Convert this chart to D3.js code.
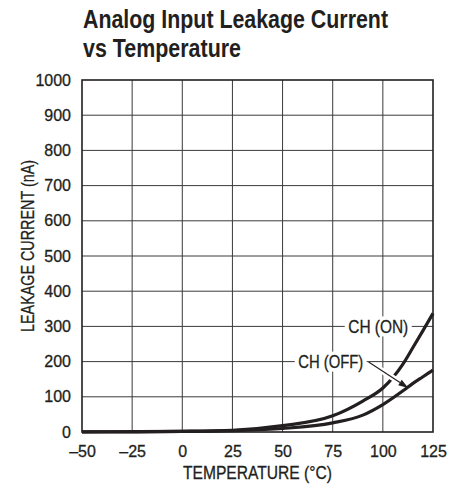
<!DOCTYPE html>
<html>
<head>
<meta charset="utf-8">
<script src="https://cdn.jsdelivr.net/npm/d3@7"></script>
<style>
  body { margin: 0; background: #fff; }
  text { font-family: "Liberation Sans", Arial, sans-serif; fill: #231f20; }
  .heavy { stroke: #231f20; stroke-width: 0.3; }
</style>
</head>
<body>
<div class="canvas"></div>
<script>
// chart data
const temps = [-50, -25, 0, 25, 50, 75, 90, 100, 110, 115, 120, 125];
const chOn  = [0.5, 1, 2, 5, 18, 46, 88, 125, 193, 240, 288, 337];
const chOff = [0.3, 0.6, 1.5, 4, 10, 26, 48, 78, 117, 138, 157, 176];
const xTicks = [-50, -25, 0, 25, 50, 75, 100, 125];
const yTicks = [0, 100, 200, 300, 400, 500, 600, 700, 800, 900, 1000];

const width = 460;
const height = 484;
const margin = { top: 80, right: 27, bottom: 52, left: 82 };
const graphWidth = width - margin.left - margin.right;
const graphHeight = height - margin.top - margin.bottom;

const svg = d3.select('.canvas').append('svg')
  .attr('width', width)
  .attr('height', height);

// title (condensed look via textLength)
const title = svg.append('text')
  .attr('font-size', 25)
  .attr('font-weight', 'bold');
title.append('tspan').attr('x', 83).attr('y', 28)
  .attr('textLength', 305).attr('lengthAdjust', 'spacingAndGlyphs')
  .text('Analog Input Leakage Current');
title.append('tspan').attr('x', 83).attr('y', 57)
  .attr('textLength', 158).attr('lengthAdjust', 'spacingAndGlyphs')
  .text('vs Temperature');

const graph = svg.append('g')
  .attr('transform', `translate(${margin.left}, ${margin.top})`);

const x = d3.scaleLinear()
  .domain([-50, 125])
  .range([0, graphWidth]);

const y = d3.scaleLinear()
  .domain([0, 1000])
  .range([graphHeight, 0]);

// grid
graph.append('g').selectAll('line').data(xTicks.slice(1, -1)).enter().append('line')
  .attr('x1', d => x(d)).attr('x2', d => x(d))
  .attr('y1', 0).attr('y2', graphHeight)
  .attr('stroke', '#3a3a3a').attr('stroke-width', 1);

graph.append('g').selectAll('line').data(yTicks.slice(1, -1)).enter().append('line')
  .attr('y1', d => y(d)).attr('y2', d => y(d))
  .attr('x1', 0).attr('x2', graphWidth)
  .attr('stroke', '#3a3a3a').attr('stroke-width', 1);

// axes (labels only, frame drawn separately)
const xAxis = d3.axisBottom(x).tickValues(xTicks).tickSize(0).tickPadding(14)
  .tickFormat(d => String(d).replace('-', '\u2013'));
const yAxis = d3.axisLeft(y).tickValues(yTicks).tickSize(0).tickPadding(11)
  .tickFormat(d => String(d));

const xAxisGroup = graph.append('g').attr('transform', `translate(0, ${graphHeight})`).call(xAxis);
const yAxisGroup = graph.append('g').call(yAxis);
[xAxisGroup, yAxisGroup].forEach(g => {
  g.select('.domain').remove();
  g.selectAll('text')
    .attr('class', 'heavy')
    .attr('font-family', '"Liberation Sans", Arial, sans-serif')
    .attr('font-size', 16)
    .attr('fill', '#231f20');
});

// axis titles
svg.append('text')
  .attr('class', 'heavy')
  .attr('x', margin.left + graphWidth / 2 - 74.5)
  .attr('y', 479)
  .attr('font-size', 18)
  .attr('textLength', 149).attr('lengthAdjust', 'spacingAndGlyphs')
  .text('TEMPERATURE (°C)');

svg.append('text')
  .attr('class', 'heavy')
  .attr('transform', 'translate(34, 332) rotate(-90)')
  .attr('font-size', 18)
  .attr('textLength', 172).attr('lengthAdjust', 'spacingAndGlyphs')
  .text('LEAKAGE CURRENT (nA)');

// curves
const line = d3.line()
  .x(d => x(d[0]))
  .y(d => y(d[1]))
  .curve(d3.curveMonotoneX);

[chOn, chOff].forEach(series => {
  graph.append('path')
    .datum(temps.map((t, i) => [t, series[i]]))
    .attr('d', line)
    .attr('fill', 'none')
    .attr('stroke', '#231f20')
    .attr('stroke-width', 3.2)
    .attr('stroke-linejoin', 'round');
});

// annotations
const labels = [
  { text: 'CH (ON)', t: 97.7, v: 300, w: 60, box: 67 },
  { text: 'CH (OFF)', t: 74, v: 200, w: 65, box: 72 }
];
labels.forEach(l => {
  graph.append('rect')
    .attr('x', x(l.t) - l.box / 2).attr('y', y(l.v) - 10)
    .attr('width', l.box).attr('height', 20)
    .attr('fill', '#fff');
  graph.append('text')
    .attr('class', 'heavy')
    .attr('x', x(l.t) - l.w / 2).attr('y', y(l.v) + 6.5)
    .attr('font-size', 18)
    .attr('textLength', l.w).attr('lengthAdjust', 'spacingAndGlyphs')
    .text(l.text);
});

// arrow from CH (OFF) to its curve
const a0 = [x(92.9), y(199)];
const a1 = [x(112.7), y(125)];
const ang = Math.atan2(a1[1] - a0[1], a1[0] - a0[0]);
const headLen = 10, headW = 3.2;
const base = [a1[0] - headLen * Math.cos(ang), a1[1] - headLen * Math.sin(ang)];

graph.append('line')
  .attr('x1', a0[0] + 12 * Math.cos(ang)).attr('y1', a0[1] + 12 * Math.sin(ang))
  .attr('x2', base[0]).attr('y2', base[1])
  .attr('stroke', '#fff').attr('stroke-width', 6);
graph.append('line')
  .attr('x1', a0[0]).attr('y1', a0[1])
  .attr('x2', base[0]).attr('y2', base[1])
  .attr('stroke', '#231f20').attr('stroke-width', 1.1);
graph.append('path')
  .attr('d', `M${a1[0]},${a1[1]}
    L${base[0] - headW * Math.sin(ang)},${base[1] + headW * Math.cos(ang)}
    L${base[0] + headW * Math.sin(ang)},${base[1] - headW * Math.cos(ang)}Z`)
  .attr('fill', '#231f20');

// frame
graph.append('rect')
  .attr('width', graphWidth).attr('height', graphHeight)
  .attr('fill', 'none')
  .attr('stroke', '#231f20').attr('stroke-width', 1.6);
</script>
</body>
</html>
